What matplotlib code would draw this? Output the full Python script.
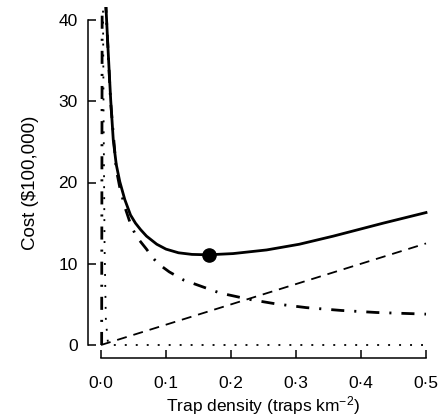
import matplotlib
matplotlib.use("Agg")
import matplotlib.pyplot as plt

plt.rcParams['font.family'] = ['Liberation Sans', 'DejaVu Sans']
plt.rcParams['mathtext.default'] = 'regular'
plt.rcParams['lines.scale_dashes'] = False

# # Data
# total cost (solid)
total_x = [0.0072, 0.0077, 0.0109, 0.0149, 0.0189, 0.0235, 0.0289, 0.0366, 0.0454,
           0.0530, 0.0609, 0.0700, 0.0858, 0.1000, 0.1192, 0.1400, 0.1646, 0.2031,
           0.2549, 0.3050, 0.3574, 0.4343, 0.5000]
total_y = [42.5, 41.5, 36.3, 30.2, 25.2, 22.2, 20.1, 17.9, 16.0,
           15.0, 14.2, 13.4, 12.4, 11.8, 11.35, 11.15, 11.1, 11.25,
           11.7, 12.4, 13.4, 15.0, 16.3]

# damage cost (dash-dot)
damage_x = [0.0072, 0.0077, 0.0149, 0.0235, 0.0289, 0.0366, 0.0454, 0.054, 0.062,
            0.070, 0.079, 0.088, 0.105, 0.127, 0.155, 0.183, 0.229, 0.270, 0.316,
            0.370, 0.424, 0.500]
damage_y = [42.5, 41.3, 29.8, 21.6, 19.4, 17.0, 14.9, 13.4, 12.6,
            11.8, 10.8, 10.0, 9.0, 8.0, 7.2, 6.4, 5.6, 5.05, 4.6,
            4.25, 4.0, 3.8]

# trapping cost (dashed)
trap_x = [0.0, 0.5]
trap_y = [0.0, 12.5]

# near-vertical curves at zero density
steep_dd_x = [0.0010, 0.0018]
steep_dd_y = [0.0, 42.5]
steep_dot_x = [0.0030, 0.0040, 0.0055, 0.0075, 0.0110, 0.5]
steep_dot_y = [42.5, 28.0, 12.0, 3.0, 0.0, 0.0]

# optimum
opt_x = [0.166]
opt_y = [11.1]

x_ticks = [0.0, 0.1, 0.2, 0.3, 0.4, 0.5]
x_ticklabels = ["0·0", "0·1", "0·2", "0·3", "0·4", "0·5"]
y_ticks = [0, 10, 20, 30, 40]

# # Figure
fig = plt.figure(figsize=(4.39, 4.16), dpi=100)
ax = fig.add_axes([88 / 439, 58 / 416, 351 / 439, 351 / 416])

dashdot = (0, (9.4, 7.2, 1.5, 7.2))
ax.plot(steep_dot_x, steep_dot_y, color='black', lw=1.3, linestyle=(0, (1.4, 6.5)))
ax.plot(steep_dd_x, steep_dd_y, color='black', lw=2.0, linestyle=dashdot)
ax.plot(trap_x, trap_y, color='black', lw=1.3, linestyle=(0, (7.2, 5.0)))
ax.plot(damage_x, damage_y, color='black', lw=2.0, linestyle=dashdot)
ax.plot(total_x, total_y, color='black', lw=2.0, solid_joinstyle='round')
ax.plot(opt_x, opt_y, 'o', color='black', markersize=9.5)

ax.set_xlim(-0.02, 0.52)
ax.set_ylim(-1.6, 41.6)

# R style axes
ax.spines[['top', 'right']].set_visible(False)
ax.spines['left'].set_bounds(0, 40)
ax.spines['bottom'].set_bounds(0, 0.5)
for s in ['left', 'bottom']:
    ax.spines[s].set_linewidth(1.1)

ax.set_xticks(x_ticks)
ax.set_xticklabels(x_ticklabels)
ax.set_yticks(y_ticks)
ax.tick_params(axis='both', direction='in', length=5.8, width=1.1, labelsize=12.5)
ax.tick_params(axis='y', pad=7.5)
ax.tick_params(axis='x', pad=13)

ax.set_xlabel("Trap density (traps km$^{-2}$)", fontsize=12.5, labelpad=2)
ax.set_ylabel("Cost ($100,000)", fontsize=13.5, labelpad=14)

plt.savefig("out.png", dpi=100)
